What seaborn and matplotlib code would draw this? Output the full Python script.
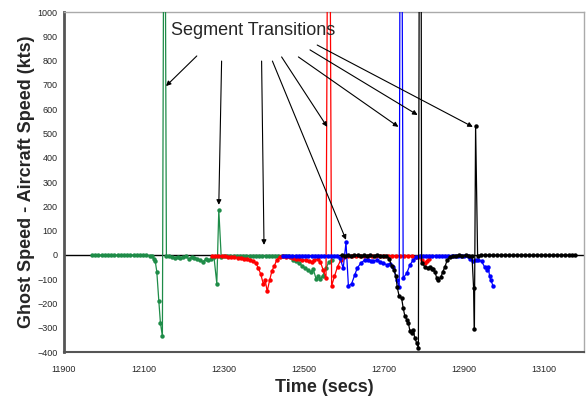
import seaborn as sns
import matplotlib.pyplot as plt
import numpy as np
import pandas as pd

# series: time (secs) and ghost - aircraft speed (kts)
green_t = [11970, 11978, 11986, 11994, 12002, 12010, 12018, 12026, 12034, 12042,
           12050, 12058, 12066, 12074, 12082, 12090, 12098, 12106, 12114, 12120,
           12124, 12128, 12132, 12137, 12141, 12146, 12151, 12156, 12163, 12170,
           12177, 12184, 12191, 12198, 12205, 12212, 12219, 12226, 12233, 12240,
           12247, 12254, 12261, 12268, 12275, 12282, 12287, 12293, 12300, 12308,
           12316, 12324, 12332, 12340, 12348, 12356, 12364, 12372, 12380, 12388,
           12396, 12404, 12412, 12420, 12428, 12436, 12444, 12452, 12460, 12467,
           12473, 12480, 12488, 12495, 12503, 12510, 12517, 12523, 12530, 12535,
           12540, 12547, 12555, 12562, 12570]
green_v = [-1, -1, -2, -1, -1, -2, -1, -1, -2, -1,
           -1, -2, -1, -1, -2, -1, -1, -2, -3, -5,
           -15, -25, -69, -188, -279, -336, 2300, -3, -6, -9,
           -12, -7, -13, -9, -6, -17, -8, -11, -15, -22,
           -28, -19, -23, -15, -10, -118, 185, -8, -5, -6,
           -4, -5, -3, -5, -4, -3, -5, -6, -4, -3,
           -4, -5, -3, -4, -5, -6, -4, -5, -6, -10,
           -21, -25, -35, -45, -55, -62, -70, -58, -98, -88,
           -100, -85, -55, -30, -20]

red_t = [12270, 12278, 12286, 12294, 12302, 12310, 12318, 12326, 12334, 12342,
         12350, 12358, 12366, 12373, 12380, 12386, 12392, 12398, 12403, 12408,
         12414, 12420, 12426, 12432, 12440, 12448, 12456, 12464, 12472, 12480,
         12488, 12496, 12504, 12512, 12519, 12526, 12534, 12541, 12548, 12555,
         12562, 12569, 12576, 12584, 12592, 12600, 12610, 12620, 12630, 12640,
         12650, 12660, 12670, 12680, 12690, 12700, 12710, 12720, 12730, 12740,
         12750, 12760, 12770, 12780, 12790, 12796, 12802, 12808, 12812]
red_v = [-3, -4, -5, -6, -6, -7, -8, -10, -12, -14,
         -15, -17, -20, -27, -35, -55, -80, -118, -105, -150,
         -105, -65, -45, -20, -8, -6, -8, -10, -12, -15,
         -18, -20, -22, -25, -31, -22, -18, -30, -62, -96,
         2500, -128, -89, -48, -21, -8, -4, -3, -3, -4,
         -3, -3, -4, -3, -3, -4, -3, -3, -4, -5,
         -4, -5, -6, -8, -10, -21, -33, -25, -15]

blue_t = [12447, 12455, 12463, 12471, 12479, 12487, 12495, 12503, 12511, 12519,
          12527, 12535, 12543, 12551, 12559, 12567, 12575, 12583, 12590, 12598,
          12605, 12611, 12619, 12627, 12633, 12642, 12652, 12660, 12667, 12673,
          12682, 12690, 12698, 12707, 12715, 12723, 12732, 12738, 12742, 12748,
          12757, 12765, 12773, 12781, 12789, 12797, 12805, 12813, 12821, 12829,
          12837, 12845, 12853, 12861, 12869, 12877, 12885, 12893, 12901, 12909,
          12915, 12923, 12930, 12936, 12944, 12952, 12957, 12961, 12964, 12967,
          12973]
blue_v = [-3, -4, -3, -4, -5, -3, -4, -5, -4, -3,
          -4, -3, -5, -4, -3, -4, -5, -6, -12, -55,
          51, -128, -119, -82, -55, -34, -21, -20, -24, -25,
          -22, -28, -34, -41, -36, -51, -103, -133, 2700, -96,
          -75, -41, -21, -8, -4, -3, -4, -3, -4, -3,
          -4, -3, -4, -5, -3, -4, -3, -4, -5, -6,
          -18, -27, -20, -21, -27, -51, -62, -51, -89, -103,
          -130]

black_t = [12594, 12602, 12610, 12618, 12626, 12634, 12642, 12650, 12658, 12666,
           12674, 12682, 12690, 12698, 12706, 12713, 12719, 12725, 12730, 12733,
           12738, 12744, 12748, 12752, 12757, 12761, 12765, 12769, 12773, 12777,
           12782, 12786, 12791, 12794, 12802, 12811, 12815, 12819, 12823, 12827,
           12832, 12836, 12842, 12847, 12852, 12858, 12865, 12872, 12880, 12888,
           12896, 12904, 12912, 12920, 12924, 12926, 12929, 12934, 12942, 12952,
           12962, 12972, 12982, 12992, 13002, 13012, 13022, 13032, 13042, 13052,
           13062, 13072, 13082, 13092, 13102, 13112, 13122, 13132, 13142, 13152,
           13162, 13170, 13178]
black_v = [-2, -3, -2, -3, -2, -2, -3, -2, -3, -2,
           -3, -2, -3, -4, -6, -15, -45, -62, -89, -133,
           -171, -178, -219, -251, -267, -281, -315, -322, -309, -343,
           -364, -384, 3500, -34, -48, -55, -51, -59, -59, -69,
           -96, -103, -93, -69, -51, -21, -9, -4, -3, -2,
           -3, -2, -3, -5, -137, -306, 530, -3, -2, -1,
           -1, -1, -2, -1, -1, -1, -2, -1, -1, -1,
           -1, -2, -1, -1, -1, -2, -1, -1, -1, -1,
           -1, -2, -1]

colors = {"g": "#1e8c48", "r": "#ff0000", "b": "#0000ff", "k": "#000000"}

frames = []
for key, t, v in [("g", green_t, green_v), ("r", red_t, red_v),
                  ("b", blue_t, blue_v), ("k", black_t, black_v)]:
    frames.append(pd.DataFrame({"t": t, "v": v, "seg": key}))
df = pd.concat(frames, ignore_index=True)

sns.set_style("white")
plt.rcParams["font.family"] = ["Liberation Sans", "DejaVu Sans"]

fig = plt.figure(figsize=(5.86, 3.98), dpi=100)
ax = fig.add_axes([64 / 586, 1 - 352 / 398, 520 / 586, 340 / 398])

ax.axhline(0, color="black", lw=1.0, zorder=1)

sns.lineplot(data=df, x="t", y="v", hue="seg", palette=colors, marker="o",
             markersize=3.2, markeredgewidth=0, linewidth=0.9, sort=False,
             estimator=None, legend=False, ax=ax, zorder=3)

ax.set_xlim(11900, 13200)
ax.set_ylim(-400, 1000)
ax.set_xticks(np.arange(11900, 13101, 200))
ax.set_yticks(np.arange(-400, 1001, 100))
ax.tick_params(axis="x", labelsize=6.5, direction="out", length=3, width=1,
               color="#444444", pad=6)
ax.tick_params(axis="y", labelsize=6.5, direction="inout", length=5, width=1,
               color="#444444", pad=2)

for side in ["left", "bottom"]:
    ax.spines[side].set_color("#555555")
ax.spines["left"].set_linewidth(2)
ax.spines["bottom"].set_linewidth(1.5)
for side in ["top", "right"]:
    ax.spines[side].set_color("#aaaaaa")
    ax.spines[side].set_linewidth(1)

ax.set_xlabel("Time (secs)", fontsize=13, fontweight="bold")
ax.set_ylabel("Ghost Speed - Aircraft Speed (kts)", fontsize=13, fontweight="bold")
ax.xaxis.set_label_coords(0.5, -0.08)
ax.yaxis.set_label_coords(-0.055, 0.5)

ax.text(12374, 922, "Segment Transitions", fontsize=13, ha="center", va="center")

arrow = dict(arrowstyle="-|>", color="black", lw=0.8, mutation_scale=7,
             shrinkA=0, shrinkB=0)
ax.annotate("", xy=(12155, 695), xytext=(12232, 819), arrowprops=arrow)
ax.annotate("", xy=(12287, 206), xytext=(12294, 798), arrowprops=arrow)
ax.annotate("", xy=(12400, 41), xytext=(12394, 798), arrowprops=arrow)
ax.annotate("", xy=(12605, 62), xytext=(12421, 798), arrowprops=arrow)
ax.annotate("", xy=(12558, 527), xytext=(12444, 815), arrowprops=arrow)
ax.annotate("", xy=(12736, 527), xytext=(12486, 815), arrowprops=arrow)
ax.annotate("", xy=(12784, 576), xytext=(12515, 844), arrowprops=arrow)
ax.annotate("", xy=(12922, 527), xytext=(12533, 864), arrowprops=arrow)

plt.savefig("out.png", dpi=100)
